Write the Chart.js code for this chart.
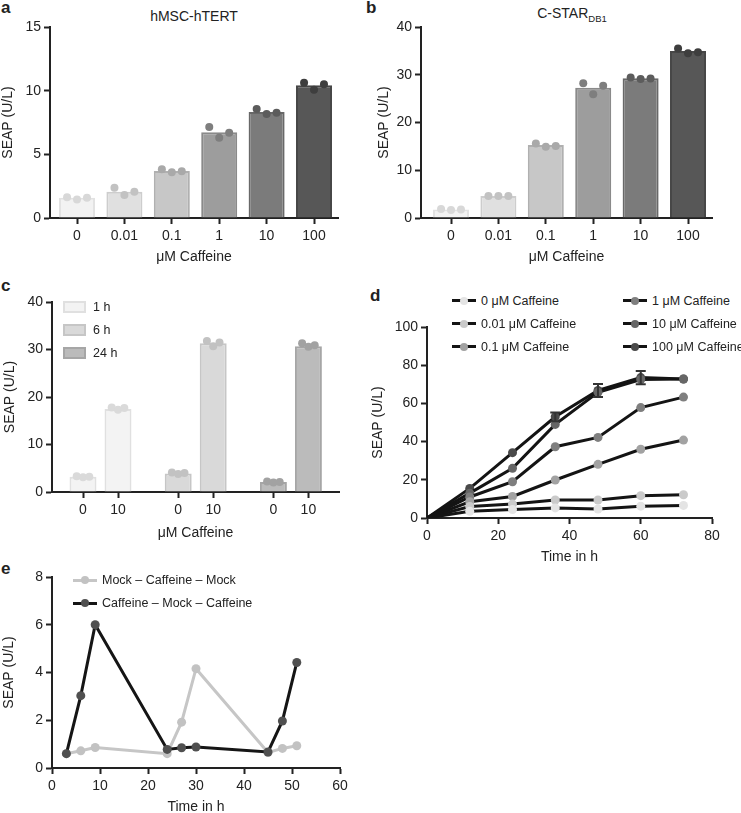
<!DOCTYPE html>
<html>
<head>
<meta charset="utf-8">
<script src="https://cdn.jsdelivr.net/npm/chart.js@4.4.0/dist/chart.umd.min.js"></script>
<style>
  html, body { margin: 0; padding: 0; background: #fff; overflow: hidden; }
  #fig { position: relative; width: 741px; height: 813px; font-family: "Liberation Sans", Arial, sans-serif; color: #222; }
  #fig canvas { position: absolute; }
  .letter { position: absolute; font-weight: bold; font-size: 17px; line-height: 17px; }
  .ptitle { position: absolute; font-size: 14px; line-height: 16px; transform: translate(-50%, -50%); white-space: nowrap; }
  .ptitle sub { font-size: 9.5px; }
  .lg { position: absolute; height: 0; display: flex; align-items: center; white-space: nowrap; font-size: 12.5px; z-index: 2; }
</style>
</head>
<body>
<div id="fig">
  <div class="letter" style="left:1px;top:-1px">a</div>
  <div class="letter" style="left:366px;top:-1px">b</div>
  <div class="letter" style="left:1px;top:277px">c</div>
  <div class="letter" style="left:370px;top:287px">d</div>
  <div class="letter" style="left:1px;top:560px">e</div>
  <div class="ptitle" style="left:194px;top:16px">hMSC-hTERT</div>
  <div class="ptitle" style="left:572px;top:16px">C-STAR<sub>DB1</sub></div>
</div>
<script>
// ---- panel a / b: dose response ----
const concLabels = ['0', '0.01', '0.1', '1', '10', '100'];
const hmscMean = [1.6, 2.07, 3.69, 6.73, 8.33, 10.42];
const hmscReps = [[1.62, 1.46, 1.6], [2.38, 1.81, 2.07], [3.82, 3.59, 3.67], [7.15, 6.31, 6.7], [8.56, 8.17, 8.27], [10.62, 10.08, 10.5]];
const cstarMean = [1.8, 4.6, 15.3, 27.3, 29.25, 35.0];
const cstarReps = [[1.9, 1.7, 1.8], [4.6, 4.6, 4.6], [15.6, 14.9, 15.1], [28.2, 25.9, 27.7], [29.4, 29.1, 29.2], [35.5, 34.5, 34.7]];

// ---- panel c: induction time ----
const inductionLabels = ['1 h', '6 h', '24 h'];
const inductionConc = ['0', '10'];
const induction1h = [3.2, 17.5];
const induction6h = [3.9, 31.3];
const induction24h = [2.1, 30.7];
const inductionReps1h = [[3.3, 3.1, 3.2], [17.8, 17.3, 17.7]];
const inductionReps6h = [[4.1, 3.8, 4.0], [31.8, 30.7, 31.5]];
const inductionReps24h = [[2.2, 2.0, 2.1], [31.3, 30.6, 30.9]];

// ---- panel d: kinetics ----
const timeH = [0, 12, 24, 36, 48, 60, 72];
const kinLabels = ['0 μM Caffeine', '0.01 μM Caffeine', '0.1 μM Caffeine', '1 μM Caffeine', '10 μM Caffeine', '100 μM Caffeine'];
const caf0 = [0, 3.5, 4.4, 5.3, 4.7, 6.2, 6.6];
const caf001 = [0, 6.0, 7.3, 9.4, 9.4, 11.7, 12.2];
const caf01 = [0, 8.5, 11.3, 19.9, 28.1, 36.0, 40.8];
const caf1 = [0, 11.0, 19.0, 37.3, 42.2, 57.8, 63.3];
const caf10 = [0, 13.0, 26.0, 49.0, 65.8, 72.5, 72.8];
const caf100 = [0, 15.5, 34.2, 53.0, 66.8, 73.5, 72.8];
const caf100Err = [0, 0, 0, 2.3, 3.4, 3.5, 0];

// ---- panel e: reversibility ----
const switchTime = [3, 6, 9, 24, 27, 30, 45, 48, 51];
const switchLabels = ['Mock – Caffeine – Mock', 'Caffeine – Mock – Caffeine'];
const mockCafMock = [0.6, 0.72, 0.86, 0.6, 1.92, 4.16, 0.65, 0.82, 0.93];
const cafMockCaf = [0.6, 3.03, 6.0, 0.78, 0.85, 0.88, 0.67, 1.97, 4.42];

const FONT = '"Liberation Sans", Arial, sans-serif';
Chart.defaults.font.family = FONT;
Chart.defaults.color = '#222';
Chart.defaults.animation = false;
Chart.defaults.plugins.legend.display = false;
Chart.defaults.plugins.tooltip.enabled = false;

const fig = document.getElementById('fig');
const INK = '#222';
const AXIS_FONT = { family: FONT, size: 14 };

function makeCanvas(left, top, w, h) {
    const c = document.createElement('canvas');
    c.width = w;
    c.height = h;
    c.style.cssText = 'left:' + left + 'px;top:' + top + 'px;width:' + w + 'px;height:' + h + 'px';
    fig.appendChild(c);
    return c;
}

function axisLook() {
    return {
        offset: false,
        border: { color: INK, width: 2 },
        grid: { offset: false, drawOnChartArea: false, tickLength: 6, tickColor: INK, tickWidth: 2 }
    };
}

function yAxis(max, step, width, titlePad) {
    return {
        ...axisLook(),
        min: 0,
        max: max,
        ticks: { stepSize: step, padding: 3, color: INK, font: AXIS_FONT },
        title: { display: true, text: 'SEAP (U/L)', color: INK, font: AXIS_FONT, padding: { top: titlePad, bottom: 0 } },
        afterFit: s => { s.width = width; }
    };
}

function xAxis(min, max, height, title, fixedTicks, labels, step) {
    const axis = {
        ...axisLook(),
        type: 'linear',
        min: min,
        max: max,
        ticks: { autoSkip: false, maxRotation: 0, padding: 4, color: INK, font: AXIS_FONT },
        title: { display: true, text: title, color: INK, font: AXIS_FONT, padding: { top: 0, bottom: 4.6 } },
        afterFit: s => { s.height = height; }
    };
    if (fixedTicks) {
        axis.afterBuildTicks = s => { s.ticks = fixedTicks.map(v => ({ value: v })); };
        axis.ticks.callback = (v, i) => labels[i];
    } else {
        axis.ticks.stepSize = step;
    }
    return axis;
}

// bars + replicate dots for one dose-response panel
const barFill = ['#f2f2f2', '#e0e0e0', '#c7c7c7', '#9d9d9d', '#7b7b7b', '#575757'];
const barEdge = ['#e2e2e2', '#cdcdcd', '#b0b0b0', '#8a8a8a', '#686868', '#474747'];
const dotFill = ['#d8d8d8', '#c2c2c2', '#a9a9a9', '#7e7e7e', '#5c5c5c', '#3e3e3e'];
const doseX = concLabels.map((_, i) => i);

function dosePanel(canvas, means, reps, yMax, yStep, geom) {
    const spread = 0.21;
    new Chart(canvas, {
        type: 'bar',
        data: {
            datasets: [{
                type: 'scatter',
                order: 1,
                data: reps.flatMap((r, i) => r.map((v, k) => ({ x: doseX[i] + spread * (k - 1), y: v }))),
                pointBackgroundColor: reps.flatMap((r, i) => r.map(() => dotFill[i])),
                pointBorderWidth: 0,
                pointRadius: 4
            }, {
                order: 2,
                grouped: false,
                data: means.map((m, i) => ({ x: doseX[i], y: m })),
                backgroundColor: barFill,
                borderColor: barEdge,
                borderWidth: 2,
                categoryPercentage: 1,
                barPercentage: 0.76
            }]
        },
        options: {
            responsive: false,
            layout: { padding: { top: 17, right: geom.right, left: 0, bottom: 0 } },
            scales: {
                x: xAxis(geom.xMin, 5.506, 52, 'μM Caffeine', doseX, concLabels),
                y: yAxis(yMax, yStep, geom.yWidth, geom.titlePad)
            }
        }
    });
}

dosePanel(makeCanvas(0, 10, 345, 260), hmscMean, hmscReps, 15, 5, { right: 7, xMin: -0.57, yWidth: 50, titlePad: 0 });
dosePanel(makeCanvas(370, 10, 371, 260), cstarMean, cstarReps, 40, 10, { right: 29, xMin: -0.633, yWidth: 51, titlePad: 6 });

// legend helpers (HTML, built from the dataset styles)
function addLegend(items, place) {
    items.forEach((it, i) => {
        const p = place(i);
        const row = document.createElement('div');
        row.className = 'lg';
        row.style.left = p.x + 'px';
        row.style.top = p.y + 'px';
        row.appendChild(it.swatch);
        const t = document.createElement('span');
        t.textContent = it.label;
        row.appendChild(t);
        fig.appendChild(row);
    });
}

function boxSwatch(fill, edge) {
    const s = document.createElement('span');
    s.style.cssText = 'display:inline-block;box-sizing:border-box;width:23px;height:12px;margin-right:7px;background:' + fill + ';border:2px solid ' + edge;
    return s;
}

function lineSwatch(line, dot) {
    const s = document.createElement('span');
    s.style.cssText = 'position:relative;display:inline-block;width:24px;height:3px;margin-right:5px;background:' + line;
    const d = document.createElement('span');
    d.style.cssText = 'position:absolute;left:8px;top:-2.5px;width:8px;height:8px;border-radius:50%;background:' + dot;
    s.appendChild(d);
    return s;
}

// ---- panel c ----
const GROUP_STEP = 2.72;
const inductionMeans = [induction1h, induction6h, induction24h];
const inductionReps = [inductionReps1h, inductionReps6h, inductionReps24h];
const indFill = ['#f3f3f3', '#d9d9d9', '#bbbbbb'];
const indEdge = ['#e0e0e0', '#c6c6c6', '#a6a6a6'];
const indDot = ['#dadada', '#c2c2c2', '#a2a2a2'];
const indX = inductionLabels.flatMap((_, g) => inductionConc.map((_, k) => g * GROUP_STEP + k));
const indTickLabels = inductionLabels.flatMap(() => inductionConc);

const indDatasets = [];
inductionLabels.forEach((lab, g) => {
    indDatasets.push({
        label: lab,
        order: 2,
        grouped: false,
        data: inductionMeans[g].map((m, k) => ({ x: g * GROUP_STEP + k, y: m })),
        backgroundColor: indFill[g],
        borderColor: indEdge[g],
        borderWidth: 2,
        categoryPercentage: 1,
        barPercentage: 0.77
    });
    indDatasets.push({
        type: 'scatter',
        order: 1,
        data: inductionReps[g].flatMap((r, k) => r.map((v, j) => ({ x: g * GROUP_STEP + k + 0.18 * (j - 1), y: v }))),
        pointBackgroundColor: indDot[g],
        pointBorderWidth: 0,
        pointRadius: 4
    });
});

new Chart(makeCanvas(0, 285, 345, 261), {
    type: 'bar',
    data: { datasets: indDatasets },
    options: {
        responsive: false,
        layout: { padding: { top: 17, right: 6, left: 0, bottom: 0 } },
        scales: {
            x: xAxis(-0.886, 7.314, 54, 'μM Caffeine', indX, indTickLabels),
            y: yAxis(40, 10, 52, 1.6)
        }
    }
});
addLegend(inductionLabels.map((lab, g) => ({ label: lab, swatch: boxSwatch(indFill[g], indEdge[g]) })),
    i => ({ x: 63, y: 307 + i * 23 }));

// ---- panel d ----
const kinSeries = [caf0, caf001, caf01, caf1, caf10, caf100];
const kinDot = ['#e4e4e4', '#cacaca', '#a2a2a2', '#7f7f7f', '#666666', '#4a4a4a'];
const LINE = '#141414';

const errorBars = {
    id: 'errorBars',
    afterDatasetsDraw(chart) {
        const { ctx, scales: { x, y } } = chart;
        ctx.save();
        ctx.strokeStyle = '#333';
        ctx.lineWidth = 2;
        caf100Err.forEach((e, i) => {
            if (!e) return;
            const px = x.getPixelForValue(timeH[i]);
            const top = y.getPixelForValue(caf100[i] + e);
            const bot = y.getPixelForValue(caf100[i] - e);
            ctx.beginPath();
            ctx.moveTo(px, top); ctx.lineTo(px, bot);
            ctx.moveTo(px - 5, top); ctx.lineTo(px + 5, top);
            ctx.moveTo(px - 5, bot); ctx.lineTo(px + 5, bot);
            ctx.stroke();
        });
        ctx.restore();
    }
};

new Chart(makeCanvas(370, 310, 371, 260), {
    type: 'line',
    data: {
        datasets: kinSeries.map((s, i) => ({
            label: kinLabels[i],
            data: s.map((v, k) => ({ x: timeH[k], y: v })),
            borderColor: LINE,
            borderWidth: 3,
            tension: 0,
            pointBackgroundColor: kinDot[i],
            pointBorderWidth: 0,
            pointRadius: c => (c.dataIndex === 0 ? 0 : 4.5)
        }))
    },
    options: {
        responsive: false,
        layout: { padding: { top: 17, right: 29, left: 0, bottom: 0 } },
        scales: {
            x: xAxis(0, 80, 52, 'Time in h', null, null, 20),
            y: yAxis(100, 20, 57, 0)
        }
    },
    plugins: [errorBars]
});
addLegend(kinLabels.map((lab, i) => ({ label: lab, swatch: lineSwatch(LINE, kinDot[i]) })),
    i => ({ x: i < 3 ? 452 : 623, y: 300.5 + (i % 3) * 23 }));

// ---- panel e ----
const switchLine = ['#c6c6c6', '#151515'];
const switchDot = ['#c2c2c2', '#505050'];
const switchSeries = [mockCafMock, cafMockCaf];

new Chart(makeCanvas(0, 560, 360, 260), {
    type: 'line',
    data: {
        datasets: switchSeries.map((s, i) => ({
            label: switchLabels[i],
            order: 2 - i,
            data: s.map((v, k) => ({ x: switchTime[k], y: v })),
            borderColor: switchLine[i],
            borderWidth: 3,
            tension: 0,
            pointBackgroundColor: switchDot[i],
            pointBorderWidth: 0,
            pointRadius: 4.5
        }))
    },
    options: {
        responsive: false,
        layout: { padding: { top: 17, right: 20, left: 0, bottom: 0 } },
        scales: {
            x: xAxis(0, 60, 52, 'Time in h', null, null, 10),
            y: yAxis(8, 2, 52, 0.6)
        }
    }
});
addLegend(switchLabels.map((lab, i) => ({ label: lab, swatch: lineSwatch(switchLine[i], switchDot[i]) })),
    i => ({ x: 73, y: 580 + i * 23 }));
</script>
</body>
</html>
